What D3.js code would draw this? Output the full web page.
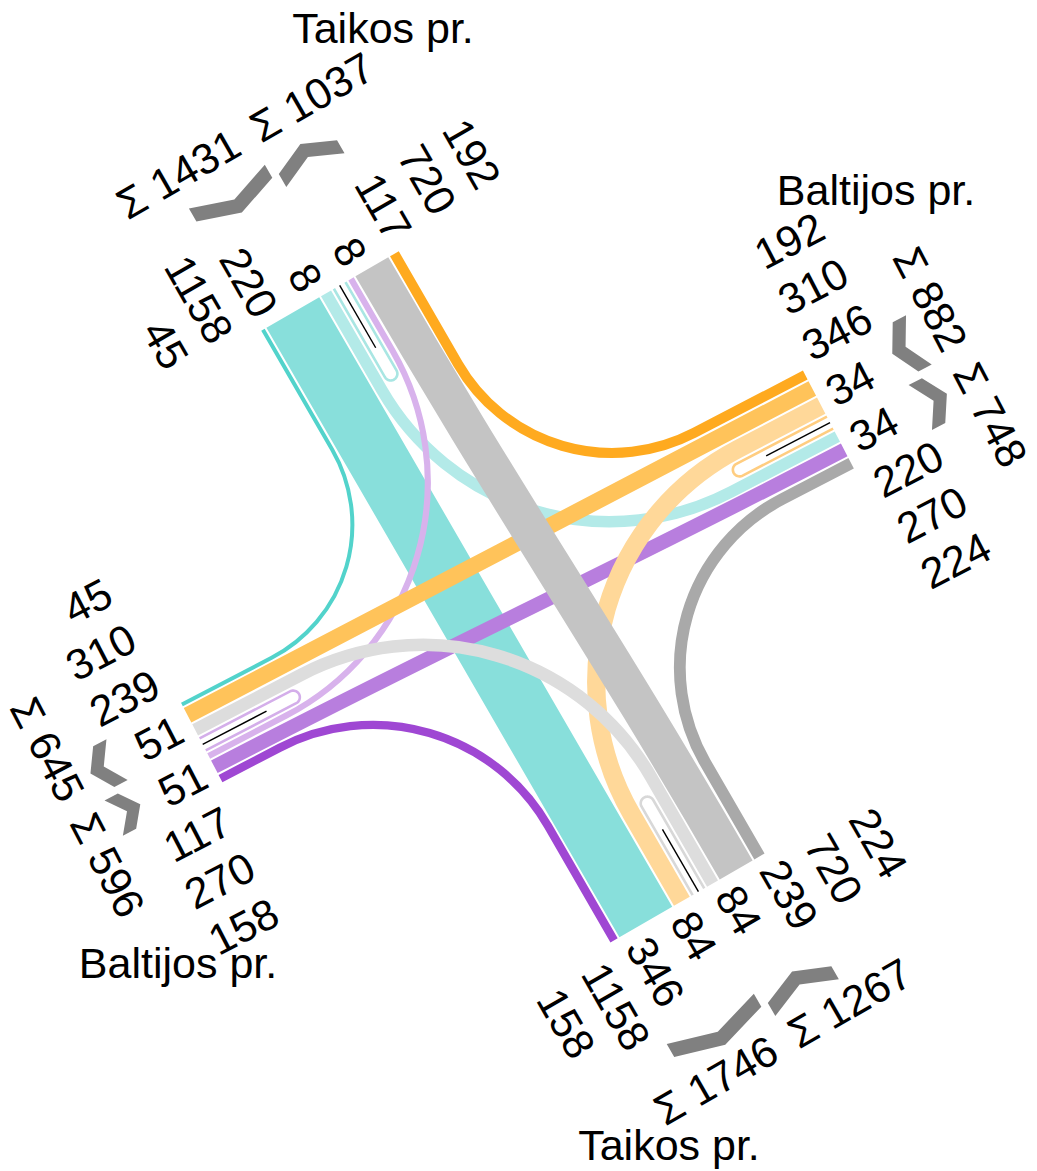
<!DOCTYPE html>
<html><head><meta charset="utf-8">
<script src="https://cdn.jsdelivr.net/npm/d3@7"></script>
<style>
body{margin:0;background:#fff}
svg{display:block}
text{font-family:"Liberation Sans",Arial,sans-serif;fill:#000}
</style>
</head><body>
<svg id="c" width="1037" height="1171"></svg>
<script>
// ---- data ----
const armKeys   = ["N", "E", "S", "W"];
const armNames  = ["Taikos pr.", "Baltijos pr.", "Taikos pr.", "Baltijos pr."];
// flows by origin arm (N, E, S, W)
const rightTurn = [45, 192, 224, 158];
const through   = [1158, 310, 720, 270];
const leftTurn  = [220, 346, 239, 117];
const uTurn     = [8, 34, 84, 51];

// ---- layout constants ----
const armCenters = [[330, 291], [828.4, 419.5], [687.5, 898], [201.7, 742.5]];
const armAngles  = [60, 152.5, 240, -27.5];           // inward direction, degrees
const chevDist   = [127, 102, 131, 98];
const sumDist    = [177, 146, 172, 140];
const sumShift   = [-9, 0, 0, 0];
const titlePos   = [[383, 43], [876, 205], [669, 1160], [178, 978]];
const GAP = 2, WU = 7, HT = 280, FS = 43, MINW = 4;
const rightRadius = [150, 178, 190, 202];             // by origin arm
const leftRadius  = 263;
const palette = [
  ["#52d3cb", "#88dfdb", "#b3eae8", "#a9e6e3"],
  ["#ffaa1f", "#ffc35a", "#ffd899", "#ffcd80"],
  ["#a9a9a9", "#c4c4c4", "#dddddd", "#d8d8d8"],
  ["#9f47d3", "#b87ede", "#d8b2ec", "#d4aeea"]
];

const svg = d3.select("#c");
const wScale = d3.scaleLinear().domain([0, 1000]).range([0, 52.7]);
const bandW = v => Math.max(MINW, wScale(v));
const rad = a => a * Math.PI / 180;

const arms = armKeys.map((k, i) => {
  const a = rad(armAngles[i]);
  return {key: k, i, c: armCenters[i], d: [Math.cos(a), Math.sin(a)], u: [Math.sin(a), -Math.cos(a)], ang: armAngles[i]};
});
function pt(A, uu, oo) { return [A.c[0] + A.u[0] * uu - A.d[0] * oo, A.c[1] + A.u[1] * uu - A.d[1] * oo]; }

const moves = [];
arms.forEach((A, i) => {
  moves.push({o: i, t: 0, dst: (i + 3) % 4, v: rightTurn[i]});
  moves.push({o: i, t: 1, dst: (i + 2) % 4, v: through[i]});
  moves.push({o: i, t: 2, dst: (i + 1) % 4, v: leftTurn[i]});
  moves.push({o: i, t: 3, dst: i, v: uTurn[i]});
});
const mv = (o, t) => moves.find(m => m.o === o && m.t === t);

arms.forEach((A, i) => {
  A.lanes = [mv(i, 0), mv(i, 1), mv(i, 2), mv(i, 3), mv(i, 3), mv((i + 3) % 4, 2), mv((i + 2) % 4, 1), mv((i + 1) % 4, 0)];
  const ws = A.lanes.map(m => m.t === 3 ? WU : bandW(m.v));
  const total = d3.sum(ws) + GAP * 7;
  let pos = -total / 2;
  A.lanePos = ws.map(w => { const c = pos + w / 2; pos += w + GAP; return {c, w, s: c - w / 2, e: c + w / 2}; });
  A.right = -total / 2; A.left = total / 2;
  A.div = (A.lanePos[3].e + A.lanePos[4].s) / 2;
  A.lanes.forEach((m, j) => { if (j < 4) m.inPos = A.lanePos[j]; else m.outPos = A.lanePos[j]; });
  A.sumIn = d3.sum(A.lanes.slice(0, 4), m => m.v);
  A.sumOut = d3.sum(A.lanes.slice(4), m => m.v);
});

moves.filter(m => m.t !== 3).forEach(m => {
  const A = arms[m.o], B = arms[m.dst];
  const p0 = pt(A, m.inPos.c, 0), p3 = pt(B, m.outPos.c, 0);
  const p = d3.path(); p.moveTo(p0[0], p0[1]);
  if (m.t === 1) {
    const p1 = [p0[0] + A.d[0] * HT, p0[1] + A.d[1] * HT];
    const p2 = [p3[0] + B.d[0] * HT, p3[1] + B.d[1] * HT];
    p.bezierCurveTo(p1[0], p1[1], p2[0], p2[1], p3[0], p3[1]);
  } else {
    // corner = intersection of the two lane axes; straight - arc - straight
    const det = A.d[0] * (-B.d[1]) - A.d[1] * (-B.d[0]);
    const rx = p3[0] - p0[0], ry = p3[1] - p0[1];
    const s = (rx * (-B.d[1]) - ry * (-B.d[0])) / det;
    const cx = p0[0] + A.d[0] * s, cy = p0[1] + A.d[1] * s;
    p.arcTo(cx, cy, p3[0], p3[1], m.t === 0 ? rightRadius[m.o] : leftRadius);
    p.lineTo(p3[0], p3[1]);
  }
  m.path = p.toString(); m.w = bandW(m.v); m.color = palette[m.o][m.t];
});

// ---- bands ----
const order = [0, 3, 1, 2];
const gBands = svg.append("g");
order.forEach(o => {
  gBands.selectAll(null).data(moves.filter(m => m.o === o && m.t !== 3)).enter()
    .append("path").attr("d", m => m.path).attr("fill", "none")
    .attr("stroke", m => m.color).attr("stroke-width", m => m.w);
});

// ---- U-turn capsules ----
const line = d3.line();
arms.forEach(A => {
  const W = A.lanePos[4].e - A.lanePos[3].s, t = 2.6, r = (W - t) / 2, L = 110;
  const oc = -(L - W / 2);
  const pts = [pt(A, A.div - r, 0), pt(A, A.div - r, oc)];
  for (let k = 1; k < 24; k++) { const th = Math.PI * k / 24; pts.push(pt(A, A.div - r * Math.cos(th), oc - r * Math.sin(th))); }
  pts.push(pt(A, A.div + r, oc), pt(A, A.div + r, 0));
  svg.append("path").attr("d", line(pts)).attr("fill", "#fff")
    .attr("stroke", palette[A.i][3]).attr("stroke-width", t);
  svg.append("path").attr("d", line([pt(A, A.div, 0), pt(A, A.div, -72)]))
    .attr("stroke", "#000").attr("stroke-width", 1.4);
});

// ---- labels, chevrons, sums ----
arms.forEach(A => {
  const phi = A.ang + 180;
  const readable = Math.cos(rad(phi)) > 0;
  const rot = readable ? phi : A.ang;
  const anchor = readable ? "start" : "end";
  A.lanes.forEach((m, j) => {
    const p = pt(A, A.div + (j - 3.5) * 51.5, 12);
    svg.append("text").attr("transform", `translate(${p[0]},${p[1]}) rotate(${rot})`)
      .attr("text-anchor", anchor).attr("dy", "0.35em").style("font-size", FS + "px").text(m.v);
  });
  const oc = chevDist[A.i];
  const chev = (u1, u2, dir) => {
    const um = (u1 + u2) / 2, h = 7.5 * dir, hw = 7.5;
    return [pt(A, u1, oc + h + hw), pt(A, um, oc - h + hw), pt(A, u2, oc + h + hw),
            pt(A, u2, oc + h - hw), pt(A, um, oc - h - hw), pt(A, u1, oc + h - hw)];
  };
  svg.append("path").attr("d", line(chev(A.right - 1.5, A.div - 4.5, 1)) + "Z").attr("fill", "#808080");
  svg.append("path").attr("d", line(chev(A.div + 3, A.left + 2, -1)) + "Z").attr("fill", "#808080");
  let ra = A.ang - 90; let flip = false;
  if (Math.cos(rad(ra)) < 0) { ra += 180; flip = true; }
  const sh = sumShift[A.i];
  [[A.div - 8 + sh, A.sumIn, flip ? "start" : "end"], [A.div + 12 + sh, A.sumOut, flip ? "end" : "start"]].forEach(([uu, s, an]) => {
    const p = pt(A, uu, sumDist[A.i]);
    svg.append("text").attr("transform", `translate(${p[0]},${p[1]}) rotate(${ra})`)
      .attr("text-anchor", an).attr("dy", "0.35em").style("font-size", FS + "px").text("Σ " + s);
  });
  svg.append("text").attr("x", titlePos[A.i][0]).attr("y", titlePos[A.i][1])
    .attr("text-anchor", "middle").style("font-size", FS + "px").text(armNames[A.i]);
});
</script>
</body></html>
